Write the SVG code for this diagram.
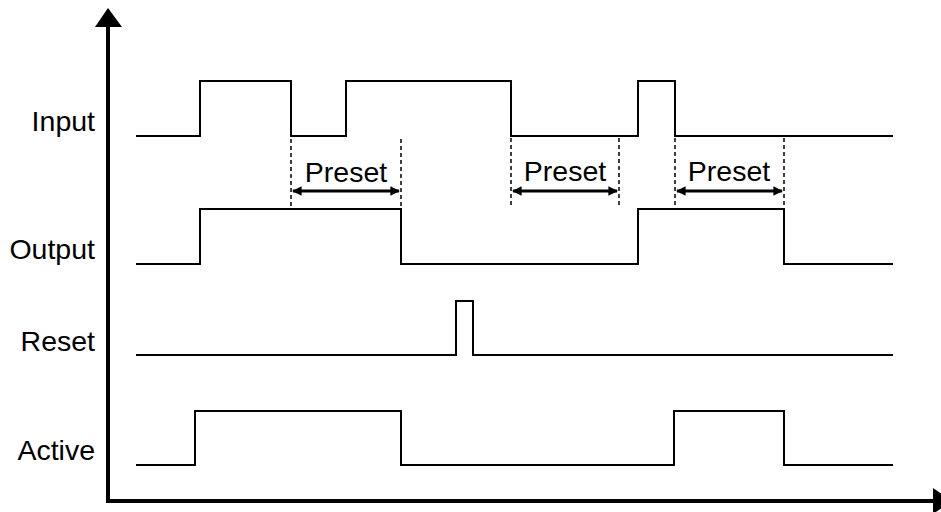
<svg xmlns="http://www.w3.org/2000/svg" width="941" height="512" viewBox="0 0 941 512">
<style>
  .sig{fill:none;stroke:#000;stroke-width:2;stroke-linejoin:miter}
  .axis{fill:none;stroke:#000;stroke-width:4}
  .dash{fill:none;stroke:#000;stroke-width:1.5;stroke-dasharray:4,3}
  .dim{fill:none;stroke:#000;stroke-width:3;marker-start:url(#ah);marker-end:url(#ah)}
  .lbl{font-family:"Liberation Sans",Arial,sans-serif;font-size:28.5px;fill:#000;text-anchor:end}
  .pre{font-family:"Liberation Sans",Arial,sans-serif;font-size:28.5px;fill:#000;text-anchor:middle}
</style>
<defs>
  <marker id="ah" viewBox="0 0 10 10" refX="9" refY="5" markerWidth="3.2" markerHeight="3.2" orient="auto-start-reverse" markerUnits="strokeWidth">
    <path d="M0,0 L10,5 L0,10 Z" fill="#000"/>
  </marker>
</defs>
<rect width="941" height="512" fill="#fff"/>
<g id="axes">
  <line class="axis" x1="108" y1="24" x2="108" y2="503"/>
  <line class="axis" x1="106" y1="501" x2="935" y2="501"/>
  <polygon points="108,8 95,27 122,27" fill="#000"/>
  <polygon points="952,501 933,488 933,514" fill="#000"/>
</g>
<g id="labels">
  <text class="lbl" x="95" y="131">Input</text>
  <text class="lbl" x="95" y="259">Output</text>
  <text class="lbl" x="95" y="351">Reset</text>
  <text class="lbl" x="95" y="460">Active</text>
</g>
<g id="input">
  <polyline class="sig" points="136,136 200,136 200,81 291,81 291,136 346,136 346,81 511,81 511,136 638,136 638,81 675,81 675,136 893,136"/>
</g>
<g id="output">
  <polyline class="sig" points="136,264 200,264 200,209 401,209 401,264 638,264 638,209 784,209 784,264 893,264"/>
</g>
<g id="reset">
  <polyline class="sig" points="136,355 456,355 456,301 473,301 473,355 893,355"/>
</g>
<g id="active">
  <polyline class="sig" points="136,465 195,465 195,411 401,411 401,465 674,465 674,411 784,411 784,465 893,465"/>
</g>
<g id="connectors">
  <line class="dash" x1="291" y1="139" x2="291" y2="208"/>
  <line class="dash" x1="401" y1="139" x2="401" y2="208"/>
  <line class="dash" x1="511" y1="138" x2="511" y2="208"/>
  <line class="dash" x1="619" y1="138" x2="619" y2="208"/>
  <line class="dash" x1="675" y1="138" x2="675" y2="208"/>
  <line class="dash" x1="784" y1="138" x2="784" y2="208"/>
  <line class="dim" x1="293" y1="191" x2="399" y2="191"/>
  <line class="dim" x1="513" y1="191" x2="617" y2="191"/>
  <line class="dim" x1="677" y1="191" x2="782" y2="191"/>
</g>
<g id="presets">
  <text class="pre" x="346" y="182">Preset</text>
  <text class="pre" x="565" y="181">Preset</text>
  <text class="pre" x="729" y="181">Preset</text>
</g>
</svg>
